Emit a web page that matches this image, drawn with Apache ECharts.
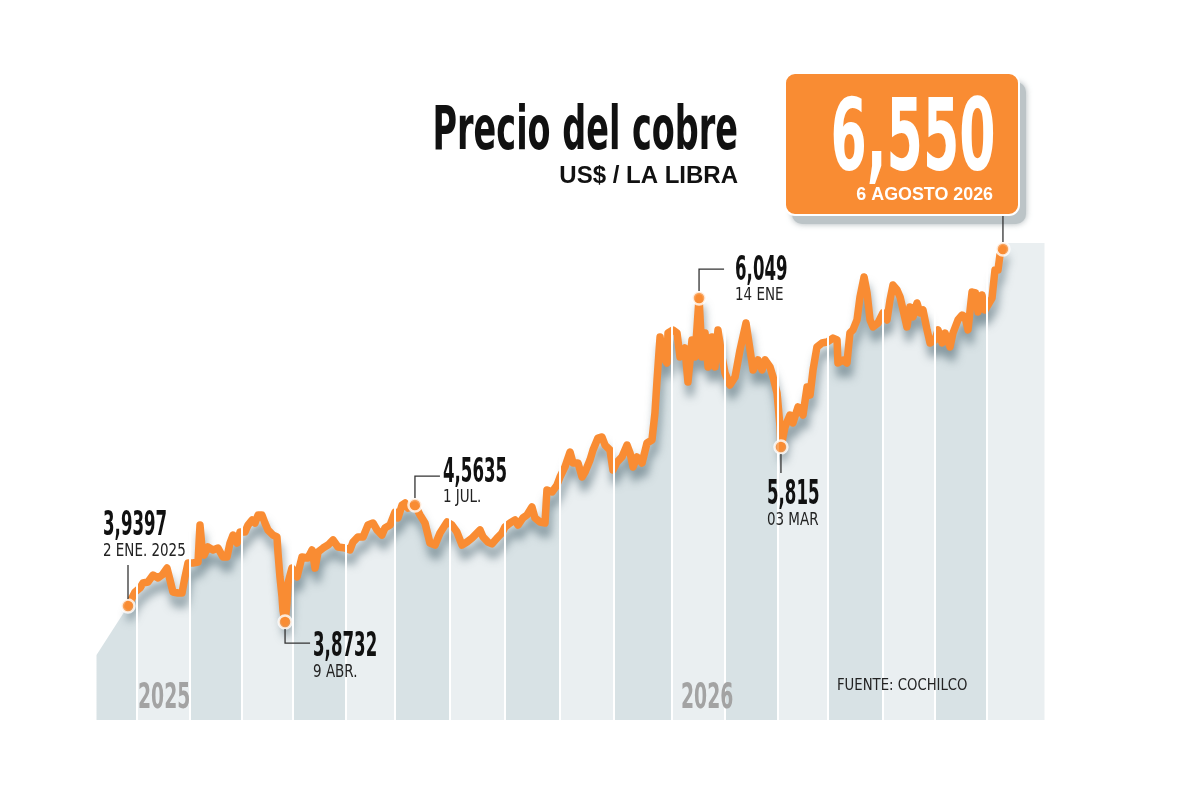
<!DOCTYPE html>
<html><head><meta charset="utf-8">
<script src="https://cdn.jsdelivr.net/npm/echarts@6/dist/echarts.min.js"></script>
<style>html,body{margin:0;padding:0;background:#fff}#c{width:1200px;height:802px}</style>
</head><body><div id="c"></div>
<script>
// ---- data (day offset from 2 Jan 2025, copper price US$/lb) ----
const days = [
0,4.7,8,10,13.3,16.7,20,22.7,26,28,
30,33.3,36,38,40,43.3,46.7,48,49.3,50.7,
53.3,56.7,60,63.3,66,68,70,72.7,74.7,78,
80,82.7,84.7,86.7,89.3,91.3,93.3,96.7,99.3,100,
101.3,102.7,103.3,104.7,106,106.7,109.3,112.7,116,120,
122.7,124.7,126.7,130,133.3,136.7,140,144.7,148,150,
153.3,156.7,160,163.3,166,169.3,171.3,174.7,178,180,
182.7,184.7,186.7,191.3,194.7,198,201.3,204.7,208,212.7,
216,219.3,222.7,226,229.3,234.7,236.7,240,242.7,246,
249.3,251.3,254.7,258,260,263.3,266,269.3,271.3,274.7,
278,279.3,282.7,286,288,291.3,294.7,296.7,300,302.7,
304.7,308,310,313.3,316,318,321.3,323.3,326,329.3,
332.7,334.7,336.7,339.3,342.7,346,349.3,351.3,352.7,354.7,
356.7,359.3,360,363.3,366,368,371.3,373.3,376,378,
380.7,382.7,384.7,386.7,389.3,391.3,393.3,396,398,401.3,
404.7,408,412,414.7,416.7,420,422.7,424.7,428,430,
432.7,434.7,435.3,438,441.3,443.3,446.7,450,452.7,454.7,
456.7,459.3,462.7,466,470,472.7,473.3,476.7,479.3,481.3,
483.3,486,488,490.7,492.7,494.7,496.7,500,503.3,506,
508,510,512.7,514.7,516.7,519.3,521.3,523.3,526,528,
530,532.7,534.7,538,540,542.7,544.7,548,550,553.3,
556,558,560,562.7,565,566.7,569.3,571.3,573.3,576,
578,580,581.3,583.3
];
const price = [
3.932,4.034,4.064,4.100,4.107,4.158,4.137,4.158,4.209,4.122,
4.034,4.027,4.027,4.144,4.246,4.246,4.253,4.523,4.363,4.304,
4.363,4.341,4.355,4.290,4.290,4.392,4.450,4.392,4.472,4.472,
4.523,4.560,4.538,4.596,4.596,4.538,4.487,4.450,4.436,4.319,
4.144,3.998,3.903,3.815,3.954,4.100,4.209,4.144,4.290,4.283,
4.341,4.209,4.326,4.355,4.377,4.414,4.363,4.355,4.341,4.399,
4.436,4.436,4.523,4.538,4.487,4.450,4.501,4.523,4.618,4.575,
4.669,4.684,4.647,4.669,4.596,4.538,4.392,4.377,4.465,4.545,
4.523,4.472,4.377,4.399,4.428,4.487,4.436,4.399,4.385,4.428,
4.465,4.509,4.538,4.560,4.523,4.575,4.596,4.655,4.575,4.545,
4.538,4.779,4.764,4.815,4.874,4.947,5.056,4.976,4.976,4.874,
4.910,4.998,5.071,5.158,5.166,5.107,5.071,4.925,4.983,5.020,
5.107,5.049,4.947,5.020,4.976,5.122,5.144,5.341,5.582,5.896,
5.750,5.706,5.925,5.947,5.925,5.750,5.815,5.567,5.874,5.750,
6.180,5.750,5.925,5.677,5.896,5.677,5.947,5.750,5.633,5.545,
5.604,5.801,5.998,5.801,5.655,5.728,5.655,5.728,5.677,5.604,
5.487,5.239,5.093,5.239,5.326,5.268,5.385,5.326,5.531,5.472,
5.655,5.823,5.852,5.859,5.888,5.874,5.706,5.728,5.706,5.925,
5.947,6.020,6.188,6.334,6.217,6.020,5.969,5.998,6.071,6.020,
6.166,6.275,6.239,6.188,6.093,5.969,6.115,6.042,6.144,6.071,
6.093,5.947,5.852,5.874,5.947,5.852,5.925,5.823,5.925,6.020,
6.056,6.042,5.947,6.224,6.217,6.078,6.202,6.093,6.129,6.180,
6.385,6.385,6.494,6.538
];
const fillStart = [-21, 3.575];
const fillEnd = [611, 6.582];
const bandEdges = [-21, 6, 41.3, 76, 110, 145.3, 178, 214.7, 251.3, 288, 324, 362.7, 398, 433.3, 466.7, 503.3, 538, 572.7, 611];
const noteDays = [0, 104.7, 191.3, 380.7, 435.3, 583.3];
const noteValues = ['3,9397', '3,8732', '4,5635', '6,049', '5,815', '6,550'];
const noteDates = ['2 ENE. 2025', '9 ABR.', '1 JUL.', '14 ENE', '03 MAR', '6 AGOSTO 2026'];
const yearLabels = ['2025', '2026'];
const titleText = 'Precio del cobre';
const subtitleText = 'US$ / LA LIBRA';
const sourceText = 'FUENTE: COCHILCO';

// ---- styling ----
const ORANGE = '#F98C33';
const DARK = '#d8e2e5';
const LIGHT = '#eaeff1';
const NARROW = '"DejaVu Sans Condensed","Liberation Sans Narrow",sans-serif';
const SANS = '"Liberation Sans",Arial,sans-serif';

const lineData = days.map((d, i) => [d, price[i]]);
const last = lineData[lineData.length - 1];
const areaData = [fillStart].concat(lineData, [[last[0] + 0.6, fillEnd[1]], fillEnd]);
const noteData = noteDays.map(d => lineData[days.indexOf(d)]);

const pieces = [];
for (let i = 0; i < bandEdges.length - 1; i++) {
  const p = { color: i % 2 === 0 ? DARK : LIGHT };
  if (i > 0) p.gte = bandEdges[i];
  if (i < bandEdges.length - 2) p.lt = bandEdges[i + 1];
  pieces.push(p);
}

const chart = echarts.init(document.getElementById('c'), null, { renderer: 'canvas' });
chart.setOption({
  animation: false,
  backgroundColor: '#fff',
  grid: { left: 96.5, right: 155.5, top: 240.5, bottom: 82 },
  xAxis: { type: 'value', min: -21, max: 611, show: false, splitLine: { show: false } },
  yAxis: { type: 'value', min: 3.1, max: 6.6, show: false, splitLine: { show: false } },
  visualMap: { show: false, type: 'piecewise', dimension: 0, seriesIndex: 0, pieces: pieces },
  series: [
    {
      type: 'line', data: areaData, symbol: 'none', z: 1, silent: true,
      lineStyle: { width: 0 },
      areaStyle: { opacity: 1, origin: 'start' },
      markLine: {
        silent: true, symbol: 'none', animation: false,
        label: { show: false },
        lineStyle: { color: '#ffffff', width: 2, type: 'solid' },
        data: bandEdges.slice(1, -1).map(e => ({ xAxis: e }))
      }
    },
    {
      type: 'line', data: lineData, symbol: 'none', z: 3, silent: true,
      lineStyle: {
        color: ORANGE, width: 7.5, join: 'round', cap: 'round',
        shadowColor: 'rgba(70,95,105,0.55)', shadowBlur: 8, shadowOffsetX: 2, shadowOffsetY: 11
      }
    },
    {
      type: 'scatter', data: noteData, z: 5, symbolSize: 13, silent: true,
      itemStyle: { color: ORANGE, borderColor: '#ffffff', borderWidth: 2.5 }
    }
  ]
});

// ---- annotations, drawn at the library's pixel positions of the data ----
function txt(x, y, text, font, size, weight, fill, align, sx) {
  return {
    type: 'text', x: x, y: y, scaleX: sx || 1, z: 100, silent: true,
    style: {
      text: text, x: 0, y: 0, fill: fill, fontFamily: font, fontSize: size, fontWeight: weight,
      align: align, textAlign: align, verticalAlign: 'middle', textVerticalAlign: 'middle'
    }
  };
}
function seg(pts) {
  return {
    type: 'polyline', z: 100, silent: true, shape: { points: pts },
    style: { stroke: '#333', lineWidth: 1.3, fill: null }
  };
}
const layout = [
  { path: [[0, -7], [0, -41]], tx: -25, ty: -80, dy: 26 },
  { path: [[0, 7], [0, 21], [25, 21]], tx: 28, ty: 25, dy: 26 },
  { path: [[0, -7], [0, -29], [25, -29]], tx: 28, ty: -32, dy: 25 },
  { path: [[0, -7], [0, -29], [25, -29]], tx: 36, ty: -27, dy: 25 },
  { path: [[0, 7], [0, 26]], tx: -14, ty: 48, dy: 26 }
];
const g = [];
noteData.forEach((pt, i) => {
  const p = chart.convertToPixel({ xAxisIndex: 0, yAxisIndex: 0 }, pt);
  if (i < layout.length) {
    const L = layout[i];
    g.push(seg(L.path.map(q => [p[0] + q[0], p[1] + q[1]])));
    g.push(txt(p[0] + L.tx, p[1] + L.ty, noteValues[i], NARROW, 33, 'bold', '#111', 'left', 0.56));
    g.push(txt(p[0] + L.tx, p[1] + L.ty + L.dy, noteDates[i], NARROW, 17, 'normal', '#222', 'left', 0.88));
  } else {
    // highlighted last value box: separate soft shadow, then the box itself
    g.push({
      type: 'rect', z: 98, silent: true,
      shape: { x: 792, y: 82, width: 234, height: 142, r: 10 },
      style: { fill: '#bcc4c7', shadowColor: 'rgba(150,160,165,0.8)', shadowBlur: 6 }
    });
    g.push({
      type: 'rect', z: 99, silent: true,
      shape: { x: 785, y: 73, width: 234, height: 142, r: 10 },
      style: { fill: ORANGE, stroke: '#ffffff', lineWidth: 2 }
    });
    g.push(seg([[p[0], 216], [p[0], p[1] - 7]]));
    g.push(txt(913, 144, noteValues[i], NARROW, 100, 'bold', '#ffffff', 'center', 0.58));
    g.push(txt(993, 195, noteDates[i], SANS, 19, 'bold', '#ffffff', 'right', 0.94));
  }
});
g.push(txt(738, 133, titleText, NARROW, 60, 'bold', '#111', 'right', 0.62));
g.push(txt(738, 176, subtitleText, SANS, 24, 'bold', '#111', 'right', 1));
g.push(txt(138, 699, yearLabels[0], NARROW, 36, 'bold', '#a3a3a3', 'left', 0.58));
g.push(txt(681, 699, yearLabels[1], NARROW, 36, 'bold', '#a3a3a3', 'left', 0.58));
g.push(txt(837, 686, sourceText, NARROW, 16, 'normal', '#222', 'left', 0.92));
chart.setOption({ graphic: { elements: g } });
</script>
</body></html>
